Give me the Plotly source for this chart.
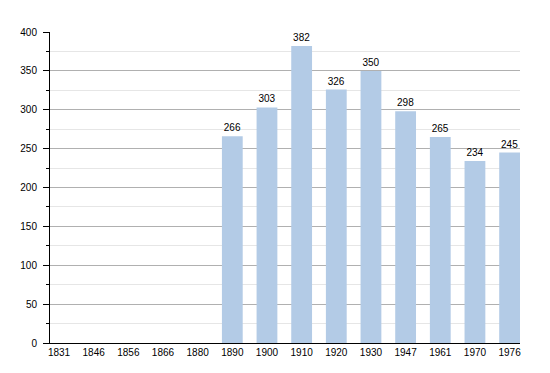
import plotly.graph_objects as go

years = ["1831", "1846", "1856", "1866", "1880", "1890", "1900", "1910",
         "1920", "1930", "1947", "1961", "1970", "1976"]
population = [None, None, None, None, None, 266, 303, 382, 326, 350, 298, 265, 234, 245]
labels = ["" if v is None else str(v) for v in population]

fig = go.Figure(go.Bar(
    x=years, y=population, text=labels, textposition="outside",
    textfont=dict(size=10, color="#000000", family="Liberation Sans, Arial"),
    marker=dict(color="#b3cbe6", line=dict(width=0)),
    cliponaxis=False,
))

fig.update_layout(
    width=550, height=373,
    margin=dict(l=50, r=30, t=32, b=30),
    paper_bgcolor="white", plot_bgcolor="white",
    bargap=0.4,
    showlegend=False,
    font=dict(family="Liberation Sans, Arial", size=10, color="#000000"),
    xaxis=dict(type="category", range=[-0.26, 13.3], showline=True,
               linecolor="#000000", linewidth=1,
               ticks="", tickfont=dict(size=10), showgrid=False),
    yaxis=dict(range=[0, 400], dtick=50, showline=True, linecolor="#000000", linewidth=1,
               ticks="outside", ticklen=6, tickcolor="#000000",
               ticklabelstandoff=4,
               showgrid=True, gridcolor="#b0b0b0", gridwidth=1,
               zeroline=False, tickfont=dict(size=10),
               minor=dict(dtick=25, showgrid=True, gridcolor="#e6e6e6",
                          ticks="outside", ticklen=3, tickcolor="#000000")),
)

fig.write_html("out.html")
